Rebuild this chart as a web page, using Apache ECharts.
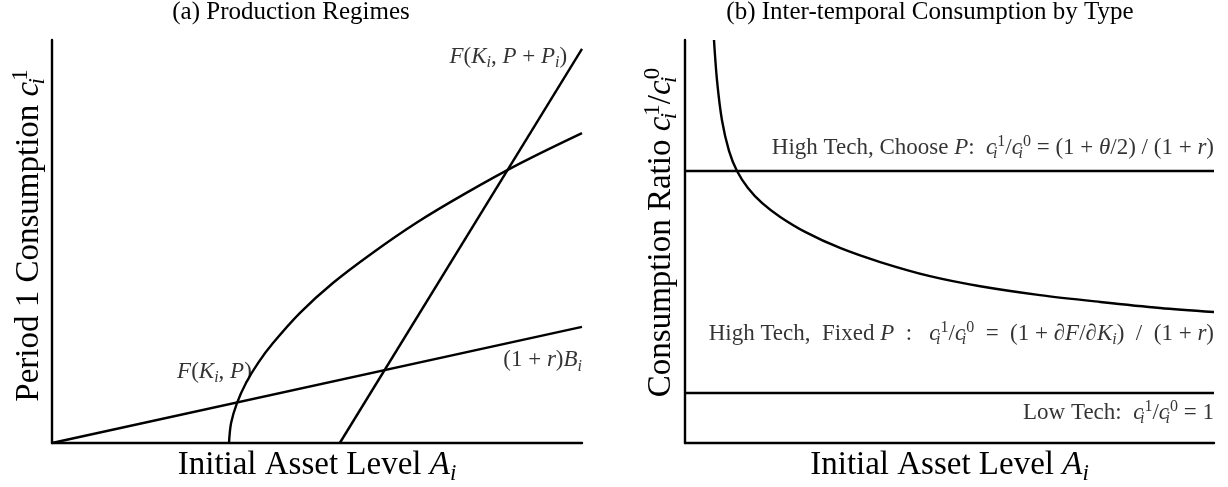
<!DOCTYPE html>
<html>
<head>
<meta charset="utf-8">
<style>
  html, body { margin: 0; padding: 0; background: #fff; }
  #chart { width: 1228px; height: 487px; }
</style>
<script src="https://cdn.jsdelivr.net/npm/echarts@6/dist/echarts.min.js"></script>
</head>
<body>
<div id="chart"></div>
<script>
// ---------- Data (abstract 0..10 units) ----------
// Panel (a)
const savingsLine = [[0, 0], [10, 2.88]];                       // (1+r)B_i
const prodFixedP = [                                            // F(K_i, P)
  [3.34, 0], [3.38, 0.50], [3.49, 0.99], [3.66, 1.49], [3.89, 1.99],
  [4.17, 2.48], [4.68, 3.23], [5.30, 3.97], [6.04, 4.71], [6.87, 5.46],
  [7.81, 6.20], [8.85, 6.95], [10.0, 7.69]
];
const prodChooseP = [[5.43, 0], [10, 9.78]];                    // F(K_i, P + P_i)

// Panel (b)
const highTechChoose = [[0, 6.75], [10, 6.75]];
const lowTech = [[0, 1.24], [10, 1.24]];
const highTechFixed = [
  [0.548, 10.0], [0.605, 9.00], [0.699, 8.01], [0.832, 7.25], [0.983, 6.75],
  [1.19, 6.33], [1.46, 5.95], [1.80, 5.61], [2.27, 5.24], [2.93, 4.84],
  [3.69, 4.49], [4.63, 4.14], [5.58, 3.89], [6.71, 3.67], [7.85, 3.50],
  [8.98, 3.35], [10, 3.25]
];

// Titles and axis names
const titles = ['(a) Production Regimes', '(b) Inter-temporal Consumption by Type'];
const xNames = ['{r|Initial Asset Level }{it|A}{sub|i}', '{r|Initial Asset Level }{it|A}{sub|i}'];
const yNames = ['{r|Period 1 Consumption }{it|c}{subz|i}{sup|1}',
                '{r|Consumption Ratio }{it|c}{subz|i}{sup|1}{r|/}{it|c}{subz|i}{sup|0}'];

// Annotations: [x, y, text] (right edge of text at x)
const annotationsA = [
  [9.72, 9.58, '{it|F}{r|(}{it|K}{sub|i}{r|, }{it|P}{r| + }{it|P}{sub|i}{r|)}'],
  [3.77, 1.76, '{it|F}{r|(}{it|K}{sub|i}{r|, }{it|P}{r|)}'],
  [10, 2.05, '{r|(1 + }{it|r}{r|)}{it|B}{sub|i}']
];
const annotationsB = [
  [10, 7.32, '{r|High Tech, Choose }{it|P}{r|:  }{it|c}{subz|i}{sup|1}{r|/}{it|c}{subz|i}{sup|0}{r| = (1 + }{it|θ}{r|/2) / (1 + }{it|r}{r|)}'],
  [10, 2.70, '{r|High Tech,  Fixed }{it|P}{r|  :   }{it|c}{subz|i}{sup|1}{r|/}{it|c}{subz|i}{sup|0}{r|  =  (1 + ∂}{it|F}{r|/∂}{it|K}{sub|i}{r|)  /  (1 + }{it|r}{r|)}'],
  [10, 0.74, '{r|Low Tech:  }{it|c}{subz|i}{sup|1}{r|/}{it|c}{subz|i}{sup|0}{r| = 1}']
];

// ---------- Styling helpers ----------
const FONT = '"Liberation Serif", "DejaVu Serif", serif';
function rich(S) {
  const small = Math.round(S * 0.7);
  const lh = Math.round(S * 1.2);
  return {
    r:   { fontFamily: FONT, fontSize: S, lineHeight: lh, color: '#000' },
    it:  { fontFamily: FONT, fontSize: S, fontStyle: 'italic', lineHeight: lh, color: '#000' },
    sub: { fontFamily: FONT, fontSize: small, fontStyle: 'italic', verticalAlign: 'bottom', color: '#000' },
    subz:{ fontFamily: FONT, fontSize: small, fontStyle: 'italic', verticalAlign: 'bottom', width: 1, color: '#000' },
    sup: { fontFamily: FONT, fontSize: small, verticalAlign: 'top', color: '#000' }
  };
}
const LINE = { color: '#000', width: 2.4 };

function axisCommon(gi) {
  return {
    gridIndex: gi, type: 'value', min: 0, max: 10,
    axisLine: { show: true, onZero: false, lineStyle: { color: '#000', width: 2.4 } },
    axisTick: { show: false }, axisLabel: { show: false }, splitLine: { show: false }
  };
}

function lineSeries(data, gi, smooth) {
  return {
    type: 'line', xAxisIndex: gi, yAxisIndex: gi, data: data,
    showSymbol: false, symbol: 'none', smooth: smooth || false,
    lineStyle: LINE, silent: true, clip: false, animation: false
  };
}
function labelSeries(ann, gi, S) {
  return {
    type: 'scatter', xAxisIndex: gi, yAxisIndex: gi, symbolSize: 0, clip: false,
    silent: true, animation: false,
    data: ann.map(a => ({ value: [a[0], a[1]], name: a[2] })),
    label: { show: true, position: 'left', distance: 0, formatter: p => p.name, rich: rich(S) }
  };
}

const chart = echarts.init(document.getElementById('chart'), null, { renderer: 'canvas' });
chart.setOption({
  backgroundColor: '#fff',
  animation: false,
  title: [
    { text: titles[0], left: 291, top: 0, padding: 0, textAlign: 'center',
      textStyle: { fontFamily: FONT, fontSize: 25, fontWeight: 'normal', color: '#000' } },
    { text: titles[1], left: 930, top: 0, padding: 0, textAlign: 'center',
      textStyle: { fontFamily: FONT, fontSize: 25, fontWeight: 'normal', color: '#000' } }
  ],
  grid: [
    { left: 52, right: 646, top: 40, bottom: 44, containLabel: false, outerBoundsMode: 'none' },
    { left: 685, right: 14, top: 40, bottom: 44, containLabel: false, outerBoundsMode: 'none' }
  ],
  xAxis: [
    Object.assign(axisCommon(0), { name: xNames[0], nameLocation: 'middle', nameGap: 2,
      nameTextStyle: { rich: rich(33) } }),
    Object.assign(axisCommon(1), { name: xNames[1], nameLocation: 'middle', nameGap: 2,
      nameTextStyle: { rich: rich(33) } })
  ],
  yAxis: [
    Object.assign(axisCommon(0), { name: yNames[0], nameLocation: 'middle', nameGap: 3,
      nameTextStyle: { rich: rich(33), padding: [0, 0, 0, 12] } }),
    Object.assign(axisCommon(1), { name: yNames[1], nameLocation: 'middle', nameGap: 4,
      nameTextStyle: { rich: rich(33), padding: [0, 0, 0, 18] } })
  ],
  series: [
    lineSeries(savingsLine, 0),
    lineSeries(prodFixedP, 0, 0.35),
    lineSeries(prodChooseP, 0),
    labelSeries(annotationsA, 0, 23),
    lineSeries(highTechChoose, 1),
    lineSeries(lowTech, 1),
    lineSeries(highTechFixed, 1, 0.3),
    labelSeries(annotationsB, 1, 23)
  ]
});
</script>
</body>
</html>
